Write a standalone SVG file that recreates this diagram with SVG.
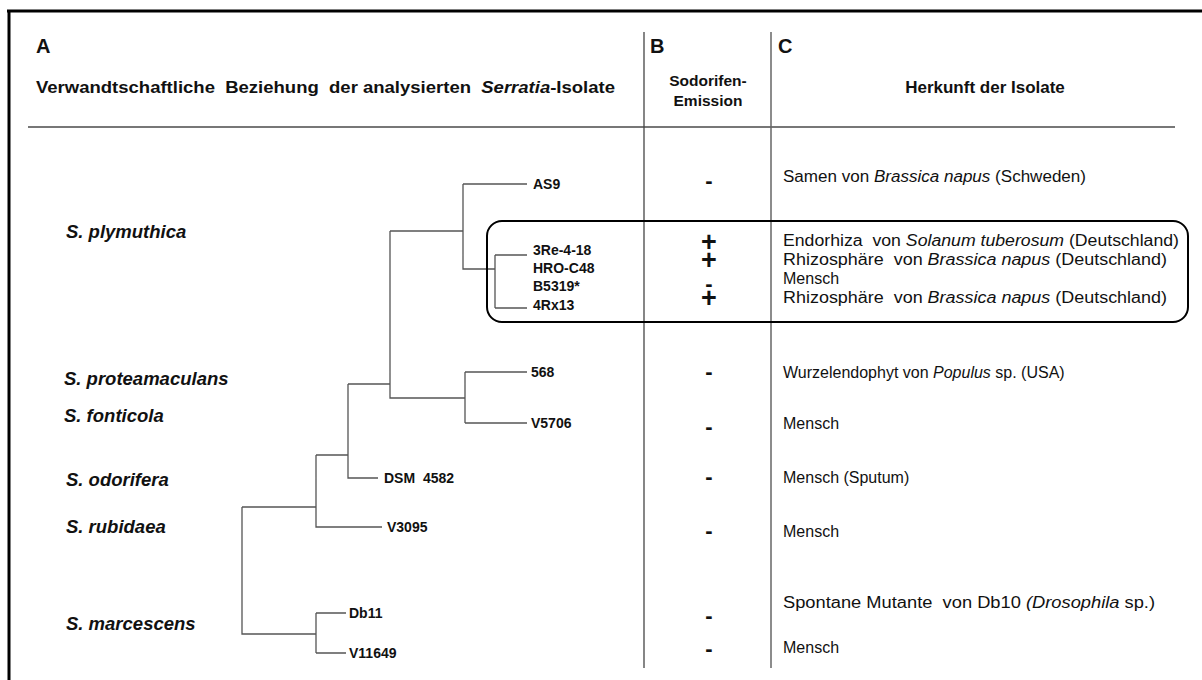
<svg xmlns="http://www.w3.org/2000/svg" width="1202" height="680" viewBox="0 0 1202 680">
<style>
text{font-family:"Liberation Sans",Arial,sans-serif;fill:#111}
.hdr{font-size:20px;font-weight:bold}
.ttl{font-size:17px;font-weight:bold}
.sub{font-size:15.5px;font-weight:bold}
.sp{font-size:18.5px;font-weight:bold;font-style:italic}
.st{font-size:14px;font-weight:bold}
.org{font-size:16px}
.sym{font-size:22px;font-weight:bold;text-anchor:middle}
.plus{font-size:27px;font-weight:bold;text-anchor:middle}
.it{font-style:italic}
.tree{fill:none;stroke:#555;stroke-width:1.3}
</style>
<rect width="1202" height="680" fill="#fff"/>
<g id="frame" fill="none" stroke="#000" stroke-width="3">
<path d="M7,11 H1202 M9,11 V680"/>
</g>
<g id="grid" fill="none">
<line x1="28" y1="127" x2="1175" y2="127" stroke="#777" stroke-width="2"/>
<line x1="644" y1="32" x2="644" y2="668" stroke="#444" stroke-width="1.3"/>
<line x1="771" y1="32" x2="771" y2="668" stroke="#666" stroke-width="1.5"/>
</g>
<g id="headers">
<text class="hdr" x="36" y="53">A</text>
<text class="hdr" x="650" y="53">B</text>
<text class="hdr" x="778" y="53">C</text>
<text class="ttl" x="36" y="93" textLength="579" lengthAdjust="spacingAndGlyphs" xml:space="preserve">Verwandtschaftliche  Beziehung  der analysierten  <tspan class="it">Serratia</tspan>-Isolate</text>
<text class="sub" x="708" y="86" text-anchor="middle">Sodorifen-</text>
<text class="sub" x="708" y="106" text-anchor="middle">Emission</text>
<text class="ttl" x="985" y="93" text-anchor="middle" xml:space="preserve">Herkunft der Isolate</text>
</g>
<g id="connectors" class="tree">
<path d="M463,184 H527 M463,184 V269 H495 M495,255 V308 M495,255 H527 M495,308 H527"/>
<path d="M390,231 H463 M390,231 V398 H465 M465,372 V423 M465,372 H527 M465,423 H527 M348,384 H390"/>
<path d="M348,384 V478 H378 M316,455 H348 M316,455 V527 H382"/>
<path d="M242,507 H316 M242,507 V634 H316 M316,613 V653 M316,613 H346 M316,653 H346"/>
</g>
<g id="highlight">
<rect x="487" y="221" width="701" height="101" rx="15" ry="15" fill="none" stroke="#000" stroke-width="2"/>
</g>
<g id="species">
<text class="sp" x="66" y="238">S. plymuthica</text>
<text class="sp" x="64" y="385">S. proteamaculans</text>
<text class="sp" x="64" y="422">S. fonticola</text>
<text class="sp" x="66" y="486">S. odorifera</text>
<text class="sp" x="66" y="533">S. rubidaea</text>
<text class="sp" x="66" y="630">S. marcescens</text>
</g>
<g id="strains">
<text class="st" x="533" y="189">AS9</text>
<text class="st" x="533" y="255">3Re-4-18</text>
<text class="st" x="533" y="273">HRO-C48</text>
<text class="st" x="533" y="291">B5319*</text>
<text class="st" x="533" y="310">4Rx13</text>
<text class="st" x="531" y="377">568</text>
<text class="st" x="531" y="428">V5706</text>
<text class="st" x="384" y="483" xml:space="preserve">DSM  4582</text>
<text class="st" x="387" y="532">V3095</text>
<text class="st" x="349" y="618">Db11</text>
<text class="st" x="349" y="658">V11649</text>
</g>
<g id="emission">
<text class="sym" x="709" y="188">-</text>
<text class="plus" x="709" y="251">+</text>
<text class="plus" x="709" y="269">+</text>
<text class="sym" x="709" y="291">-</text>
<text class="plus" x="709" y="307">+</text>
<text class="sym" x="709" y="379">-</text>
<text class="sym" x="709" y="434">-</text>
<text class="sym" x="709" y="484">-</text>
<text class="sym" x="709" y="538">-</text>
<text class="sym" x="709" y="623">-</text>
<text class="sym" x="709" y="656">-</text>
</g>
<g id="origin">
<text class="org" x="783" y="182" textLength="303" lengthAdjust="spacingAndGlyphs">Samen von <tspan class="it">Brassica napus</tspan> (Schweden)</text>
<text class="org" x="783" y="246" textLength="396" lengthAdjust="spacingAndGlyphs" xml:space="preserve">Endorhiza  von <tspan class="it">Solanum tuberosum</tspan> (Deutschland)</text>
<text class="org" x="783" y="265" textLength="384" lengthAdjust="spacingAndGlyphs" xml:space="preserve">Rhizosphäre  von <tspan class="it">Brassica napus</tspan> (Deutschland)</text>
<text class="org" x="783" y="284">Mensch</text>
<text class="org" x="783" y="303" textLength="384" lengthAdjust="spacingAndGlyphs" xml:space="preserve">Rhizosphäre  von <tspan class="it">Brassica napus</tspan> (Deutschland)</text>
<text class="org" x="783" y="378">Wurzelendophyt von <tspan class="it">Populus</tspan> sp. (USA)</text>
<text class="org" x="783" y="429">Mensch</text>
<text class="org" x="783" y="483">Mensch (Sputum)</text>
<text class="org" x="783" y="537">Mensch</text>
<text class="org" x="783" y="608" textLength="372" lengthAdjust="spacingAndGlyphs" xml:space="preserve">Spontane Mutante  von Db10 <tspan class="it">(Drosophila</tspan> sp.)</text>
<text class="org" x="783" y="653">Mensch</text>
</g>
</svg>
